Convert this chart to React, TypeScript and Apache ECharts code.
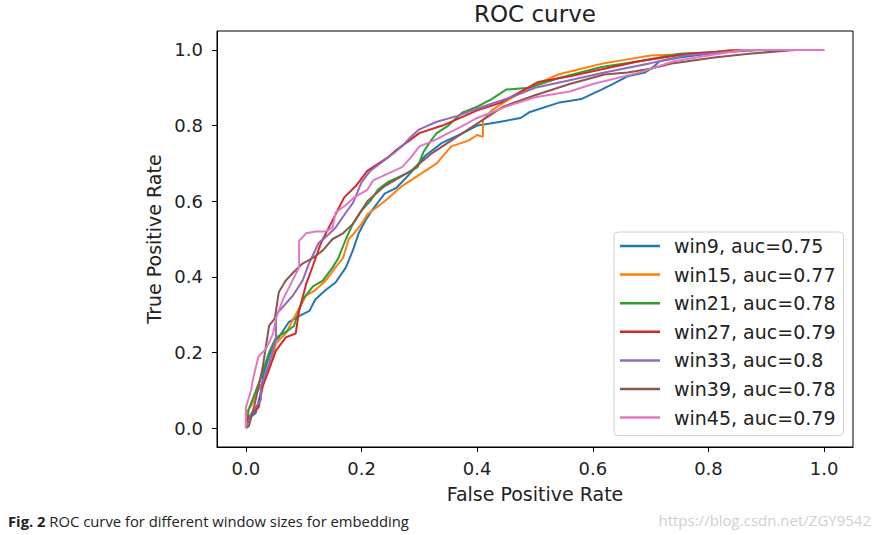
import React, { useEffect, useRef } from "react";
import * as echarts from "echarts";

const tickValues = [0, 0.2, 0.4, 0.6, 0.8, 1.0];
const titleText = "ROC curve";
const xName = "False Positive Rate";
const yName = "True Positive Rate";
const seriesNames = [
  "win9, auc=0.75",
  "win15, auc=0.77",
  "win21, auc=0.78",
  "win27, auc=0.79",
  "win33, auc=0.8",
  "win39, auc=0.78",
  "win45, auc=0.79",
];
const colors = ["#1f77b4", "#ff7f0e", "#2ca02c", "#d62728", "#9467bd", "#8c564b", "#e377c2"];

const win9 = [
  [0, 0], [0, 0.02], [0.017, 0.04], [0.025, 0.09], [0.03, 0.14], [0.04, 0.19], [0.05, 0.23],
  [0.057, 0.24], [0.074, 0.28], [0.09, 0.295], [0.11, 0.31], [0.12, 0.34], [0.138, 0.365],
  [0.155, 0.385], [0.173, 0.425], [0.185, 0.47], [0.195, 0.515], [0.207, 0.55], [0.22, 0.58],
  [0.24, 0.62], [0.26, 0.635], [0.285, 0.675], [0.31, 0.72], [0.34, 0.755], [0.375, 0.78],
  [0.4, 0.8], [0.42, 0.805], [0.44, 0.81], [0.475, 0.82], [0.49, 0.835], [0.54, 0.86],
  [0.58, 0.87], [0.615, 0.895], [0.635, 0.91], [0.66, 0.93], [0.69, 0.94], [0.705, 0.955],
  [0.715, 0.97], [0.75, 0.98], [0.8, 0.99], [0.84, 1.0], [1, 1],
];
const win15 = [
  [0, 0], [0, 0.04], [0.01, 0.06], [0.017, 0.09], [0.035, 0.135], [0.045, 0.18], [0.052, 0.225],
  [0.069, 0.25], [0.086, 0.3], [0.104, 0.35], [0.12, 0.365], [0.138, 0.39], [0.155, 0.425],
  [0.168, 0.45], [0.178, 0.5], [0.187, 0.515], [0.2, 0.54], [0.21, 0.565], [0.24, 0.6],
  [0.27, 0.64], [0.295, 0.665], [0.33, 0.7], [0.355, 0.745], [0.385, 0.76], [0.4, 0.775],
  [0.41, 0.77], [0.41, 0.815], [0.425, 0.84], [0.445, 0.86], [0.49, 0.9], [0.54, 0.935],
  [0.58, 0.95], [0.62, 0.965], [0.66, 0.975], [0.7, 0.985], [0.785, 0.99], [0.84, 1.0], [1, 1],
];
const win21 = [
  [0, 0], [0.005, 0.05], [0.015, 0.09], [0.025, 0.13], [0.04, 0.2], [0.052, 0.24], [0.07, 0.255],
  [0.083, 0.27], [0.098, 0.34], [0.116, 0.375], [0.133, 0.39], [0.15, 0.425], [0.16, 0.45],
  [0.173, 0.5], [0.185, 0.54], [0.2, 0.575], [0.215, 0.6], [0.228, 0.63], [0.245, 0.65],
  [0.28, 0.675], [0.297, 0.69], [0.307, 0.73], [0.32, 0.76], [0.33, 0.78], [0.35, 0.8],
  [0.375, 0.835], [0.4, 0.85], [0.425, 0.87], [0.45, 0.895], [0.49, 0.9], [0.54, 0.925],
  [0.615, 0.955], [0.68, 0.97], [0.75, 0.99], [0.895, 1.0], [1, 1],
];
const win27 = [
  [0, 0], [0.005, 0.03], [0.022, 0.055], [0.029, 0.11], [0.04, 0.155], [0.052, 0.205],
  [0.069, 0.24], [0.086, 0.25], [0.092, 0.31], [0.104, 0.38], [0.116, 0.43], [0.13, 0.49],
  [0.15, 0.55], [0.17, 0.61], [0.19, 0.64], [0.21, 0.68], [0.245, 0.715], [0.26, 0.735],
  [0.3, 0.78], [0.34, 0.8], [0.4, 0.84], [0.44, 0.86], [0.505, 0.915], [0.56, 0.93],
  [0.62, 0.95], [0.68, 0.97], [0.765, 0.99], [0.86, 1.0], [1, 1],
];
const win33 = [
  [0, 0], [0.01, 0.04], [0.026, 0.075], [0.026, 0.11], [0.04, 0.17], [0.052, 0.235],
  [0.052, 0.3], [0.081, 0.35], [0.098, 0.39], [0.109, 0.435], [0.126, 0.49], [0.138, 0.505],
  [0.155, 0.53], [0.173, 0.57], [0.185, 0.595], [0.2, 0.65], [0.215, 0.68], [0.25, 0.72],
  [0.27, 0.745], [0.285, 0.77], [0.3, 0.79], [0.33, 0.81], [0.365, 0.825], [0.4, 0.845],
  [0.45, 0.87], [0.5, 0.9], [0.56, 0.92], [0.62, 0.94], [0.7, 0.965], [0.76, 0.985],
  [0.88, 1.0], [1, 1],
];
const win39 = [
  [0, 0], [0.005, 0.005], [0.014, 0.055], [0.022, 0.11], [0.029, 0.16], [0.035, 0.22],
  [0.04, 0.27], [0.05, 0.29], [0.057, 0.36], [0.069, 0.39], [0.081, 0.41], [0.098, 0.435],
  [0.116, 0.45], [0.133, 0.47], [0.15, 0.5], [0.168, 0.515], [0.185, 0.54], [0.21, 0.6],
  [0.24, 0.64], [0.285, 0.68], [0.32, 0.725], [0.355, 0.76], [0.4, 0.805], [0.445, 0.85],
  [0.5, 0.88], [0.56, 0.91], [0.62, 0.935], [0.66, 0.94], [0.7, 0.95], [0.74, 0.965],
  [0.81, 0.98], [0.87, 0.99], [0.95, 1.0], [1, 1],
];
const win45 = [
  [0, 0], [0, 0.055], [0.009, 0.1], [0.012, 0.127], [0.017, 0.16], [0.022, 0.19], [0.035, 0.21],
  [0.047, 0.25], [0.052, 0.29], [0.064, 0.34], [0.074, 0.37], [0.092, 0.425], [0.092, 0.495],
  [0.104, 0.515], [0.121, 0.52], [0.138, 0.52], [0.15, 0.53], [0.155, 0.57], [0.173, 0.59],
  [0.187, 0.61], [0.21, 0.63], [0.22, 0.655], [0.27, 0.69], [0.285, 0.715], [0.3, 0.745],
  [0.325, 0.76], [0.35, 0.78], [0.37, 0.795], [0.4, 0.82], [0.45, 0.85], [0.5, 0.875],
  [0.56, 0.89], [0.6, 0.91], [0.68, 0.94], [0.74, 0.97], [0.8, 0.985], [0.86, 1.0], [1, 1],
];
const allSeries = [win9, win15, win21, win27, win33, win39, win45];

const captionBold = "Fig. 2";
const captionText = " ROC curve for different window sizes for embedding";
const watermark = "https://blog.csdn.net/ZGY9542";

export default function App() {
  const ref = useRef<HTMLDivElement>(null);
  useEffect(() => {
    if (!ref.current) return;
    const chart = echarts.init(ref.current, null, { renderer: "svg" });
    const font = "DejaVu Sans";
    const axisCommon = {
      type: "value" as const,
      min: -0.05,
      max: 1.05,
      splitLine: { show: false },
      axisLine: { show: true, onZero: false, lineStyle: { color: "#000", width: 1 } },
      axisTick: {
        show: true,
        customValues: tickValues,
        length: 5,
        lineStyle: { color: "#000", width: 1 },
      },
      nameLocation: "middle" as const,
      nameTextStyle: { fontSize: 19, color: "#222", fontFamily: font },
    };
    chart.setOption({
      animation: false,
      backgroundColor: "#fff",
      title: {
        text: titleText,
        left: 474,
        top: 2,
        padding: 0,
        textStyle: { fontSize: 23, fontWeight: "normal", color: "#222", fontFamily: font },
      },
      grid: {
        left: 217,
        top: 31,
        width: 636,
        height: 416,
        show: true,
        borderColor: "#000",
        borderWidth: 1,
        backgroundColor: "transparent",
      },
      xAxis: {
        ...axisCommon,
        name: xName,
        nameGap: 37,
        axisLabel: {
          customValues: tickValues,
          formatter: (v: number) => v.toFixed(1),
          fontSize: 18,
          color: "#222",
          fontFamily: font,
          margin: 12,
        },
      },
      yAxis: {
        ...axisCommon,
        name: yName,
        nameGap: 52,
        axisLabel: {
          customValues: tickValues,
          formatter: (v: number) => v.toFixed(1),
          fontSize: 18,
          color: "#222",
          fontFamily: font,
          margin: 14,
        },
      },
      legend: {
        data: seriesNames,
        orient: "vertical",
        left: 614,
        top: 232,
        icon: "rect",
        itemWidth: 40,
        itemHeight: 2.5,
        itemGap: 8.6,
        selectedMode: false,
        padding: [4, 8, 8, 6],
        borderColor: "#d0d0d0",
        borderWidth: 1,
        borderRadius: 4,
        backgroundColor: "rgba(255,255,255,0.8)",
        textStyle: {
          fontSize: 19,
          lineHeight: 20,
          color: "#222",
          fontFamily: font,
          padding: [0, 0, 0, 9],
        },
      },
      series: allSeries.map((d, i) => ({
        name: seriesNames[i],
        type: "line",
        data: d,
        symbol: "none",
        showSymbol: false,
        color: colors[i],
        lineStyle: { width: 2, color: colors[i] },
        silent: true,
      })),
      graphic: [
        {
          type: "text",
          left: 8,
          top: 513,
          style: {
            text: `{b|${captionBold}}${captionText}`,
            fontFamily: "Open Sans",
            fontSize: 14.8,
            fill: "#222",
            rich: {
              b: { fontFamily: "Open Sans", fontSize: 14.8, fontWeight: "bold", fill: "#222" },
            },
          },
        },
        {
          type: "text",
          right: 9,
          top: 512,
          style: {
            text: watermark,
            fontFamily: "Open Sans",
            fontSize: 15,
            fill: "#d0d0d0",
          },
        },
      ],
    });
    return () => chart.dispose();
  }, []);
  return (
    <div
      ref={ref}
      style={{ position: "fixed", left: 0, top: 0, width: 880, height: 535 }}
    />
  );
}
